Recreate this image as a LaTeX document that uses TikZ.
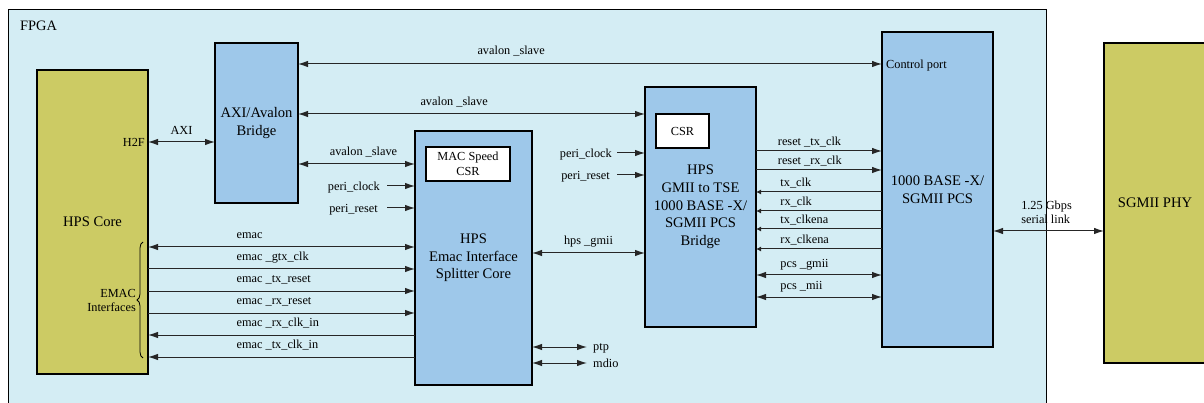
\documentclass[tikz,border=0pt]{standalone}
\usepackage{fontspec}
\setmainfont{Liberation Serif}
\usetikzlibrary{arrows.meta,decorations.pathreplacing}
\definecolor{fpgaFill}{HTML}{D4EDF4}
\definecolor{blkFill}{HTML}{9EC8EA}
\definecolor{coreFill}{HTML}{CCCB64}
\definecolor{sigLine}{HTML}{262626}
\tikzset{
  blk/.style={draw=black,line width=1.4pt,fill=blkFill,align=center,inner sep=0pt,outer sep=0pt,
              font=\fontsize{14.6}{17.7}\selectfont},
  core/.style={blk,fill=coreFill},
  reg/.style={blk,fill=white,font=\fontsize{12.3}{15}\selectfont},
  lbl/.style={font=\fontsize{12.3}{14}\selectfont,inner sep=0pt,text depth=0pt},
  sig/.style={draw=sigLine,line width=1pt,-{Latex[length=10pt,width=6.5pt]}},
  sigback/.style={draw=sigLine,line width=1pt,{Latex[length=10pt,width=6.5pt]}-},
  bisig/.style={draw=sigLine,line width=1pt,{Latex[length=10pt,width=6.5pt]}-{Latex[length=10pt,width=6.5pt]}},
  clkback/.style={draw=sigLine,line width=1pt,{Latex[length=5pt,width=5pt]}-},
  brc/.style={draw=black,line width=0.8pt,decorate,decoration={brace,amplitude=6pt}},
}
\begin{document}
\begin{tikzpicture}[x=1pt,y=-1pt]
  \clip (0,0) rectangle (1204,403);
  \fill[white] (0,0) rectangle (1204,403);

  % FPGA region and its blocks
  \node[draw=black,line width=1.4pt,fill=fpgaFill,anchor=north west,minimum width=1038pt,minimum height=410pt,inner sep=0pt] (fpga) at (8,9) {};
  \node[lbl,font=\fontsize{14.4}{17}\selectfont,anchor=west] (fpgalbl) at (20,26) {FPGA};

  \node[core,minimum width=111pt,minimum height=304pt] (hps) at (92.5,222) {HPS Core};
  \node[blk,minimum width=83pt,minimum height=160pt] (axi) at (256.5,123) {AXI/Avalon\\Bridge};
  \node[blk,minimum width=117pt,minimum height=254pt] (split) at (473.5,258) {HPS\\Emac Interface\\Splitter Core};
  \node[reg,minimum width=84pt,minimum height=34pt] (maccsr) at (468,164) {MAC Speed\\CSR};
  \node[blk,minimum width=111pt,minimum height=240pt] (gmii) at (700.5,207) {HPS\\GMII to TSE\\1000 BASE -X/\\SGMII PCS\\Bridge};
  \node[reg,minimum width=53pt,minimum height=34pt] (csr) at (682.5,131) {CSR};
  \node[blk,minimum width=111pt,minimum height=315pt] (pcs) at (937.5,189.5) {1000 BASE -X/\\SGMII PCS};
  \node[core,minimum width=102pt,minimum height=320pt] (phy) at (1155,203) {SGMII PHY};

  \node[lbl,anchor=east] (h2f) at (145,142) {H2F};
  \node[lbl,anchor=west] (ctlport) at (886,64) {Control port};
  \node[lbl,anchor=east,align=right] (emacif) at (136,300) {EMAC\\Interfaces};
  \draw[brc] (143,358) -- (143,242);

  % host side buses
  \draw[bisig] (hps.east |- h2f.east) -- node[lbl,above=7pt] (laxi) {AXI} (axi.west |- h2f.east);
  \draw[bisig] (axi.east |- ctlport.west) -- node[lbl,pos=0.365,above=8.5pt] (lav1) {avalon \_slave} (pcs.west |- ctlport.west);
  \draw[bisig] (axi.east |- 0,114) -- node[lbl,pos=0.45,above=7.5pt] (lav2) {avalon \_slave} (gmii.west |- 0,114);
  \draw[bisig] (axi.east |- 0,164) -- node[lbl,pos=0.56,above=7.5pt] (lav3) {avalon \_slave} (split.west |- 0,164);

  \node[lbl,anchor=east] (lpclk) at (380,186) {peri\_clock};
  \node[lbl,anchor=east] (lprst) at (378,208) {peri\_reset};
  \draw[sig] ([xshift=7pt]lpclk.east) -- (split.west |- lpclk.east);
  \draw[sig] ([xshift=9pt]lprst.east) -- (split.west |- lprst.east);

  % EMAC interfaces
  \draw[bisig] (hps.east |- 0,247) -- node[lbl,pos=0.33,anchor=south west,yshift=8pt] (lemac) {emac} (split.west |- 0,247);
  \draw[sig] (hps.east |- 0,269) -- node[lbl,pos=0.33,anchor=south west,yshift=8pt] (lgtx) {emac \_gtx\_clk} (split.west |- 0,269);
  \draw[sig] (hps.east |- 0,291) -- node[lbl,pos=0.33,anchor=south west,yshift=8pt] (ltxrst) {emac \_tx\_reset} (split.west |- 0,291);
  \draw[sig] (hps.east |- 0,313) -- node[lbl,pos=0.33,anchor=south west,yshift=8pt] (lrxrst) {emac \_rx\_reset} (split.west |- 0,313);
  \draw[sigback] (hps.east |- 0,335) -- node[lbl,pos=0.33,anchor=south west,yshift=8pt] (lrxclk) {emac \_rx\_clk\_in} (split.west |- 0,335);
  \draw[sigback] (hps.east |- 0,357) -- node[lbl,pos=0.33,anchor=south west,yshift=8pt] (ltxclk) {emac \_tx\_clk\_in} (split.west |- 0,357);

  % splitter to bridge
  \draw[bisig] (split.east |- 0,253) -- node[lbl,above=7.5pt] (lgmii) {hps \_gmii} (gmii.west |- 0,253);
  \node[lbl,anchor=west] (lptp) at (593,347) {ptp};
  \node[lbl,anchor=west] (lmdio) at (593,363) {mdio};
  \draw[bisig] (split.east |- lptp.west) -- ([xshift=-6pt]lptp.west);
  \draw[bisig] (split.east |- lmdio.west) -- ([xshift=-6pt]lmdio.west);

  \node[lbl,anchor=east] (lpclkb) at (612,153) {peri\_clock};
  \node[lbl,anchor=east] (lprstb) at (610,175) {peri\_reset};
  \draw[sig] ([xshift=5pt]lpclkb.east) -- (gmii.west |- lpclkb.east);
  \draw[sig] ([xshift=7pt]lprstb.east) -- (gmii.west |- lprstb.east);

  % bridge to PCS
  \draw[sig] (gmii.east |- 0,151) -- node[lbl,pos=0.17,anchor=south west,yshift=5pt] (lrtx) {reset \_tx\_clk} (pcs.west |- 0,151);
  \draw[sig] (gmii.east |- 0,170) -- node[lbl,pos=0.17,anchor=south west,yshift=5pt] (lrrx) {reset \_rx\_clk} (pcs.west |- 0,170);
  \draw[clkback] (gmii.east |- 0,192) -- node[lbl,pos=0.19,anchor=south west,yshift=5pt] (ltx) {tx\_clk} (pcs.west |- 0,192);
  \draw[clkback] (gmii.east |- 0,211) -- node[lbl,pos=0.19,anchor=south west,yshift=5pt] (lrx) {rx\_clk} (pcs.west |- 0,211);
  \draw[clkback] (gmii.east |- 0,229) -- node[lbl,pos=0.19,anchor=south west,yshift=5pt] (ltxe) {tx\_clkena} (pcs.west |- 0,229);
  \draw[clkback] (gmii.east |- 0,249) -- node[lbl,pos=0.19,anchor=south west,yshift=5pt] (lrxe) {rx\_clkena} (pcs.west |- 0,249);
  \draw[bisig] (gmii.east |- 0,275) -- node[lbl,pos=0.19,anchor=south west,yshift=7pt] (lpgmii) {pcs \_gmii} (pcs.west |- 0,275);
  \draw[bisig] (gmii.east |- 0,297) -- node[lbl,pos=0.19,anchor=south west,yshift=7pt] (lpmii) {pcs \_mii} (pcs.west |- 0,297);

  % serial link off chip
  \draw[bisig] (pcs.east |- 0,231) -- node[lbl,pos=0.25,anchor=south west,yshift=7pt,align=left] (lser) {1.25 Gbps\\serial link} (phy.west |- 0,231);
\end{tikzpicture}
\end{document}
